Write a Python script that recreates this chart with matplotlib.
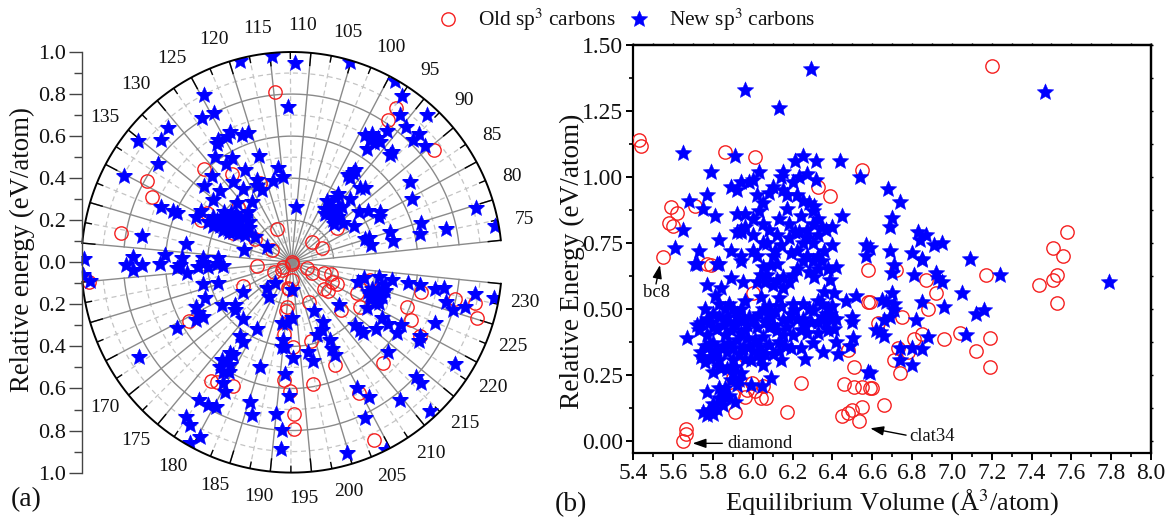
import numpy as np
import matplotlib
matplotlib.use("Agg")
import matplotlib.pyplot as plt
from matplotlib.path import Path
from matplotlib.ticker import FixedLocator, MultipleLocator, FormatStrFormatter, NullFormatter
from matplotlib.lines import Line2D

plt.rcParams['font.family'] = ['Liberation Serif', 'DejaVu Serif']
plt.rcParams['mathtext.fontset'] = 'stix'

# ---- panel (a): (angle label value, relative energy) ----
polar_new = [
(114.8,.984),(118.7,.987),(111.9,.948),(112.9,.738),(124.6,.90),(126.5,.807),(124.5,.80),(131.3,.87),(133.2,.853),
(135.3,.93),(140.2,.90),(136.2,.788),(123.6,.688),(121.8,.652),(120.7,.649),(126.1,.679),(126.7,.667),(124.5,.67),
(119.8,.53),(128.4,.62),(125.5,.57),(127.3,.56),(124.3,.49),(115.9,.452),(118,.397),(115,.41),(131.3,.56),(134.1,.55),
(122.5,.426),(128.4,.47),(132.5,.48),(127.2,.42),(123.3,.40),(122.3,.373),(135.3,.48),(127.2,.346),(131.4,.384),
(110.5,.263),(142.1,.676),(142,.613),(142,.595),(141,.505),(139.1,.496),(140.8,.44),(141.4,.41),(139.3,.41),(139.6,.38),
(136.8,.378),(137.7,.35),(137.2,.326),(134.9,.318),(132.6,.31),(130.3,.317),(141.1,.36),(140,.314),(139.9,.288),
(138.8,.258),(137.1,.211),(138.1,.14),(145.9,.234),(148,.51),(147.9,.725),
(139,.43),(138,.40),(136,.40),(135,.37),(134,.35),(141,.33),(140,.34),(139,.31),(137,.29),(136,.27),(133,.28),(135,.26),(140.5,.38),
(105.1,.992),(99.1,.993),(97.4,.949),(96.2,.869),(93.4,.95),(94.5,.84),(92.4,.86),(92.5,.82),(90.6,.843),(96.3,.77),
(99,.70),(98.1,.72),(96.8,.72),(97,.687),(97.4,.647),(96.2,.712),(97.8,.692),(93.4,.693),(93.5,.707),(96.9,.515),
(96.9,.487),(97,.533),(97.7,.496),(87.5,.678),(84.6,.648),(79.7,.913),(76.8,.98),(77.7,.75),(79.8,.643),(77.8,.626),
(79.9,.49),(77.7,.492),(80,.366),(80,.387),(77.8,.387),(85.6,.485),(84.5,.47),(87.4,.44),(88.5,.40),(93.4,.48),(92.5,.497),
(93.3,.41),(97.2,.39),(99,.334),(96.5,.326),(94.2,.34),(93.7,.356),(95.4,.296),(92.6,.283),(88.8,.308),(85.7,.34),
(97,.37),(96,.31),(98,.30),(94,.30),(97,.28),(91,.27),(92,.31),
(151.5,.754),(150.9,.604),(151.4,.524),(151.2,.42),(151,.35),(151.9,.99),
(153,.786),(153.8,.755),(153,.714),(152.9,.627),(153.2,.532),(153.9,.548),(155.3,.503),(153.9,.445),(153.9,.397),
(153.9,.326),(152.9,.42),(153.2,.357),(155,.962),(154.2,.994),(158.7,.433),(159.7,.363),(162.6,.447),(166.6,.274),
(175.1,.125),(173,.172),(177.9,.195),(166.6,.39),(169,.338),(170.4,.353),(174.7,.356),(163.7,.50),(165.3,.506),(166.5,.53),
(166.6,.494),(165.8,.63),(166.7,.853),(180.3,.36),(177,.431),(178.6,.442),(177.4,.523),(178.3,.521),(176.8,.572),
(177.7,.558),(177.3,.603),(178.8,.57),(178.4,.614),(179.3,.60),(185.1,.522),(179.5,.662),(180.5,.693),(177.5,.787),
(179.1,.787),(180.3,.779),(177.3,.891),(178.4,.913),(180.3,.938),(179.5,.986),(185.2,.693),(186.2,.75),(190,.723),
(191.1,.797),(191.1,.887),(191.1,.53),(192,.637),(193,.457),(188.5,.294),(190.5,.291),(192.6,.267),(189.9,.372),
(190.6,.406),(189.6,.407),(192.6,.132),
(228.2,.975),(228.3,.885),(226.2,.85),(225.3,.80),(226.2,.757),(228,.694),(228.3,.733),(222.4,.74),(218.4,.917),(228.2,.62),
(228.2,.559),(228.2,.484),(228.2,.419),(227,.35),(225.4,.33),(224.9,.466),(223.3,.459),(222.4,.44),(222.6,.404),(226.5,.457),
(221.4,.457),(218.6,.419),(218.4,.505),(218.2,.544),(219.4,.60),(217.5,.603),(218.5,.713),(219.3,.705),(215.5,.513),
(212.7,.424),(212.6,.456),(212.7,.476),(213.4,.626),(213.6,.806),(213.5,.839),(209.6,.834),(211.7,.964),(204.8,.671),
(205.9,.741),(203.8,.818),(199.8,.944),(204.5,1.0),(213.9,.303),(203.8,.254),(205,.32),(203.3,.352),(201,.366),(204.3,.412),
(203.7,.453),(203.7,.485),(197.2,.433),(197.9,.48),
(224,.43),(223.5,.42),(225,.43),(224.5,.40),(222,.42),(221,.44),(223,.39),
]
polar_old = [
(114.8,.816),(131.5,.61),(127.4,.505),(139.3,.79),(141.2,.732),(148,.824),(141.2,.476),(139,.467),(131.8,.367),(122.1,.405),
(122.8,.171),(137.9,.207),(137.9,.109),(140.6,.31),(100,.0),
(97.2,.888),(97.2,.817),(89.4,.861),(92.8,.137),(83.9,.159),(89,.27),
(155.1,.97),(164.2,.256),(165.8,.562),(177.4,.682),(178.3,.671),(181.3,.652),(155.3,.167),(165,.095),(164,.048),(192,.01),
(192.6,.084),(189.4,.125),(189.7,.212),(189.6,.232),(189.9,.343),(192.9,.405),(191,.561),(192.2,.611),(193,.722),(193,.794),
(227.1,.894),(225.1,.92),(227,.794),(226.9,.632),(223.1,.588),(221.1,.632),(219.3,.705),(211.4,.647),(204.6,.70),(203.7,.93),
(213,.326),(203.4,.205),(198.6,.385),(202.7,.527),(197,.589),(222.9,.077),(220.5,.107),(224.6,.159),(225.3,.195),(221.1,.211),
(221.2,.238),(215,.20),(215.7,.222),(226.9,.382),(221.3,.343),(218,.388),(190,.126),(170,.06),
]
upper_labels = [75, 80, 85, 90, 95, 100, 105, 110, 115, 120, 125, 130, 135]
lower_labels = [170, 175, 180, 185, 190, 195, 200, 205, 210, 215, 220, 225, 230]
upper_spokes = np.arange(75, 150.1, 5)
lower_spokes = np.arange(155, 230.1, 5)
radial_ticks = [-1, -.8, -.6, -.4, -.2, 0, .2, .4, .6, .8, 1]

# ---- panel (b): (equilibrium volume, relative energy) ----
scatter_new = [
(6.29,1.41),(5.96,1.33),(6.13,1.26),(5.65,1.09),(5.91,1.08),(5.79,1.02),(6.03,1.02),(6.25,1.08),(6.21,1.06),(6.32,1.06),(6.44,1.06),
(6.15,1.02),(6.14,1.0),(6.2,.98),(6.23,1.0),(6.27,1.01),(6.32,.99),(6.54,1.0),(5.89,.96),(5.92,.95),(5.94,.98),(5.98,.98),(6.0,.99),
(6.02,.93),(6.08,.94),(6.1,.96),(6.15,.95),(6.17,.93),(5.77,.93),(5.68,.91),(5.75,.88),(5.81,.85),(6.25,.91),(6.28,.90),(6.31,.89),
(6.05,.90),(6.03,.87),(6.17,.88),(6.13,.84),(6.24,.85),(5.92,.86),(5.96,.86),(5.94,.80),(5.96,.81),(5.92,.79),(5.94,.79),
(6.05,.82),(6.33,.84),(6.3,.82),(6.45,.85),(6.35,.81),(6.4,.81),(6.37,.80),(5.65,.80),(5.83,.76),(5.61,.73),(5.73,.72),(5.89,.72),(5.94,.70),
(6.07,.75),(6.11,.72),(6.18,.77),(6.21,.79),(6.23,.79),(6.27,.77),(6.3,.75),(6.19,.71),(6.4,.74),(6.36,.72),(6.57,.74),(6.57,.70),
(6.02,.70),(6.27,.70),(6.33,.70),(5.72,.67),(5.82,.67),
(6.68,.956),(6.74,.906),(6.70,.843),(6.69,.81),(6.83,.79),(6.87,.78),(6.84,.76),(6.95,.75),(6.91,.74),(6.69,.72),(6.80,.71),(6.85,.69),
(7.09,.69),(7.47,1.32),(6.59,.73),
(5.71,.67),(5.83,.67),(5.94,.68),(5.77,.59),(5.84,.58),(5.89,.615),(5.95,.60),(6.02,.60),(6.07,.63),(6.12,.61),(6.15,.62),(6.22,.65),
(6.31,.62),(6.39,.61),(6.42,.66),(6.35,.68),(6.25,.68),(6.09,.665),(6.04,.63),(6.05,.66),(6.12,.67),(6.36,.565),(6.41,.56),(6.04,.546),
(5.81,.55),(5.83,.52),(5.76,.50),(5.88,.52),(5.94,.50),(5.92,.48),(6.13,.54),(6.14,.51),(6.21,.495),(6.3,.495),(6.35,.52),(6.39,.48),
(6.47,.53),(6.52,.548),(6.5,.47),(6.5,.45),(6.505,.388),(6.49,.36),(6.43,.33),(6.26,.31),(6.355,.337),(6.3,.37),(6.24,.35),(6.19,.35),
(6.14,.305),(6.05,.286),(6.09,.236),(6.045,.207),(5.99,.21),(5.67,.388),(5.73,.42),(5.74,.445),(5.82,.425),(5.77,.4),(5.74,.337),(5.74,.318),
(5.79,.31),(5.83,.305),(5.80,.26),(5.84,.274),(5.9,.255),(5.94,.255),(5.89,.23),(5.785,.318),(5.77,.185),(5.86,.198),(5.86,.166),(5.91,.148),
(5.85,.135),(5.8,.14),(5.78,.116),(5.77,.097),(5.82,.122),(5.87,.337),(5.92,.38),(5.94,.41),(5.89,.42),(5.97,.39),(6.01,.38),(6.0,.457),
(6.08,.43),(6.09,.47),(6.15,.457),(6.08,.48),(6.19,.48),(6.24,.42),(6.27,.41),(6.29,.45),(6.37,.445),(6.41,.425),(6.42,.375),(6.15,.40),
(6.08,.362),(6.02,.33),(5.99,.305),(6.1,.33),(6.04,.31),(5.8,.37),(5.82,.343),(5.95,.35),(5.97,.438),(6.2,.52),(6.37,.48),(6.25,.463),(6.58,.26),
(6.035,.356),(5.86,.40),(5.9,.305),(5.87,.47),(5.77,.463),(5.83,.47),(5.95,.457),(6.05,.394),(6.12,.42),(6.13,.375),(6.2,.40),(6.33,.41),
(6.71,.666),(6.70,.634),(6.81,.628),(6.92,.634),(6.93,.615),(6.95,.60),(6.85,.685),(7.24,.628),(7.79,.60),(7.05,.56),(6.70,.558),(6.65,.533),
(6.67,.527),(6.71,.52),(6.85,.527),(6.96,.507),(7.16,.497),(7.12,.482),(6.71,.495),(6.69,.47),(6.66,.457),(6.82,.457),(6.62,.42),(6.66,.396),
(6.64,.413),(6.88,.394),(7.07,.40),(6.74,.35),(6.8,.353),(6.85,.346),(6.74,.305),(6.8,.286),(6.59,.257),
(5.78,.45),(5.80,.48),(5.85,.44),(5.88,.45),(5.91,.44),(5.93,.46),(5.96,.42),(5.98,.47),(6.02,.43),(6.03,.48),(6.06,.45),(6.1,.44),(6.11,.49),
(6.17,.43),(6.18,.46),(6.22,.46),(6.26,.44),(6.33,.45),(6.35,.47),(6.38,.42),(6.4,.46),(5.78,.36),(5.85,.36),(5.88,.37),(5.9,.35),(5.93,.33),
(5.96,.31),(5.98,.36),(6.0,.34),(6.06,.33),(6.13,.34),(6.16,.36),(5.76,.30),(5.81,.33),(5.83,.28),(5.87,.27),(5.91,.28),(5.93,.23),(5.92,.21),
(5.83,.16),(5.88,.17),(5.83,.2),(5.75,.11),(5.8,.1),(5.76,.36),(5.72,.44),(5.8,.43),(5.86,.5),(5.9,.5),(5.96,.53),(6.08,.51),(6.05,.5),(6.25,.52),
(6.28,.5),(6.33,.53),(6.38,.5),(6.4,.51),(6.42,.46),(6.06,.6),(6.1,.59),(6.15,.58),(6.18,.6),(6.2,.63),(6.28,.64),(6.33,.65),(6.38,.65),(6.1,.7),
(6.05,.75),(6.0,.72),(6.14,.74),(6.22,.72),(6.25,.75),(6.3,.68),(6.33,.78),(6.27,.8),(6.3,.87),(6.22,.93),(6.18,.82),(6.12,.78),(6.08,.8),(6.0,.84),(6.0,.78),
]
scatter_old = [
(7.20,1.42),(7.58,.79),(7.51,.73),(7.56,.70),(5.43,1.14),(5.44,1.117),(5.86,1.095),(6.01,1.074),(6.55,1.026),(6.33,.96),(6.39,.927),(5.71,.89),
(5.59,.884),(5.62,.864),(5.58,.824),(5.6,.814),(5.55,.697),(5.77,.67),(5.79,.666),(6.0,.558),(6.58,.647),(6.58,.527),(6.48,.343),(5.96,.32),
(6.51,.28),(6.46,.214),(6.51,.204),(6.55,.204),(6.59,.198),(6.24,.217),(6.17,.11),(5.91,.107),(6.55,.128),(6.5,.116),(6.48,.106),(6.45,.094),
(6.535,.074),(5.665,.046),(5.663,.025),(5.65,0),(5.9,.236),(5.9,.173),(5.96,.166),(6.04,.16),(6.065,.16),(6.01,.19),(5.97,.194),(6.05,.207),
(5.995,.217),(6.72,.647),(6.87,.609),(7.17,.63),(7.53,.63),(7.51,.609),(7.44,.59),(7.53,.523),(6.92,.558),(6.88,.50),(6.75,.47),(6.63,.447),
(6.59,.527),(6.85,.404),(6.81,.385),(7.04,.41),(6.96,.384),(7.19,.39),(7.12,.339),(7.19,.28),(6.73,.35),(6.78,.337),(6.71,.305),(6.74,.257),
(6.6,.198),(6.66,.137),
]

W, H = 1170, 521
fig = plt.figure(figsize=(W/100, H/100), dpi=100)
fig.patch.set_facecolor('white')
INK = '#111111'

def rect(l, t, r, b):
    return [l/W, 1-b/H, (r-l)/W, (b-t)/H]

def theta(v):
    v = np.asarray(v, dtype=float)
    return np.radians(np.where(v < 152.45, (v-72.33)*2.25, 180+(v-152.6)*2.25))

fat_star = Path.unit_regular_star(5, innerCircle=0.46)
STAR = dict(ls='none', marker=fat_star, ms=12.5, mfc='#0000ff', mec='#0000ff', mew=0.3, zorder=4)
CIRC = dict(ls='none', marker='o', ms=9.6, mfc='none', mec='#f52020', mew=1.0, zorder=3)

# ---------------- panel (a) ----------------
cx, cy, R = 291.7, 262.3, 210.3
pax = fig.add_axes(rect(cx-R, cy-R, cx+R, cy+R), projection='polar')
pax.set_rlim(0, 1)
pax.set_axis_off()
GREY = '#8a8a8a'
LGREY = '#c4c4c4'
for spokes in (upper_spokes, lower_spokes):
    fine = np.linspace(spokes[0], spokes[-1], 300)
    for r in (.2, .4, .6, .8):
        pax.plot(theta(fine), np.full_like(fine, r), color=GREY, lw=1.0, zorder=1)
    for r in (.1, .3, .5, .7, .9):
        pax.plot(theta(fine), np.full_like(fine, r), color=LGREY, lw=0.9, ls=(0, (4, 3)), zorder=1)
    pax.plot(theta(fine), np.ones_like(fine), color='black', lw=1.4, zorder=5, clip_on=False)
    for s in spokes:
        pax.plot(theta([s, s]), [0, 1], color=GREY, lw=1.0, zorder=1)
        pax.plot(theta([s, s]), [.94, 1], color='black', lw=1.0, zorder=2)
    for s in spokes[:-1] + 2.5:
        pax.plot(theta([s, s]), [.1, 1], color=LGREY, lw=0.9, ls=(0, (4, 3)), zorder=1)
        pax.plot(theta([s, s]), [.97, 1], color='black', lw=1.0, zorder=2)

pn = np.array(polar_new).T
po = np.array(polar_old).T
pax.plot(theta(po[0]), po[1], **CIRC)
pax.plot(theta(pn[0]), pn[1], **STAR)

for v in upper_labels:
    d = theta(v) + np.radians(4.3-(v-75)*0.05)
    pax.text(d, 1.125, str(v), ha='center', va='center', fontsize=14, color=INK)
for v in lower_labels:
    d = theta(v) - np.radians(1.3+(v-170)*0.045)
    pax.text(d, 1.125, str(v), ha='center', va='center', fontsize=14, color=INK)

rul = fig.add_axes(rect(81.5, cy-R, 81.6, cy+R))
rul.set_ylim(-1, 1)
rul.set_xticks([])
for sp in ('top', 'bottom', 'right'):
    rul.spines[sp].set_visible(False)
rul.spines['left'].set_color('#444444')
rul.spines['left'].set_linewidth(1.0)
rul.yaxis.set_major_locator(FixedLocator(radial_ticks))
rul.yaxis.set_minor_locator(MultipleLocator(0.1))
rul.set_yticklabels([f'{abs(t):.1f}' for t in radial_ticks], fontsize=16, color=INK)
rul.tick_params(axis='y', which='major', length=9.5, width=1.0, color='#444444', pad=1.5)
rul.tick_params(axis='y', which='minor', length=5.5, width=1.0, color='#444444')
rul.patch.set_visible(False)
fig.text(22/W, 1-250/H, 'Relative energy (eV/atom)', rotation=90, ha='center', va='center', fontsize=19.4, color=INK)
fig.text(26/W, 1-500/H, '(a)', ha='center', va='center', fontsize=20, color=INK)

# ---------------- panel (b) ----------------
ax = fig.add_axes(rect(633.3, 45, 1151, 452.7))
sn = np.array(scatter_new).T
so = np.array(scatter_old).T
ax.plot(so[0], so[1], **CIRC)
ax.plot(sn[0], sn[1], **STAR)
ax.set_xlim(5.4, 8.0)
ax.set_ylim(-0.0455, 1.5)
ax.xaxis.set_major_locator(MultipleLocator(0.2))
ax.xaxis.set_minor_locator(MultipleLocator(0.1))
ax.yaxis.set_major_locator(MultipleLocator(0.25))
ax.yaxis.set_minor_locator(MultipleLocator(0.125))
ax.xaxis.set_major_formatter(FormatStrFormatter('%.1f'))
ax.yaxis.set_major_formatter(FormatStrFormatter('%.2f'))
ax.tick_params(which='major', length=5, width=1.4, labelsize=17, pad=2.5, labelcolor=INK)
ax.tick_params(which='minor', length=3, width=1.2)
for sp in ax.spines.values():
    sp.set_linewidth(1.6)
top = ax.secondary_xaxis('top')
top.xaxis.set_major_locator(MultipleLocator(0.1))
top.xaxis.set_major_formatter(NullFormatter())
top.tick_params(length=1.5, width=1.0)
right = ax.secondary_yaxis('right')
right.yaxis.set_major_locator(MultipleLocator(0.125))
right.yaxis.set_major_formatter(NullFormatter())
right.tick_params(length=1.5, width=1.0)
for s in (top, right):
    for sp in s.spines.values():
        sp.set_linewidth(1.6)

fig.text(892/W, 1-503/H, 'Equilibrium Volume (Å$^3$/atom)', ha='center', va='center', fontsize=19, color=INK)
fig.text(572/W, 1-261/H, 'Relative Energy (eV/atom)', rotation=90, ha='center', va='center', fontsize=19.6, color=INK)
fig.text(571/W, 1-505/H, '(b)', ha='center', va='center', fontsize=20, color=INK)

ARROW = dict(arrowstyle='-|>,head_width=0.28,head_length=0.8', color='black', lw=1.0, shrinkA=0, shrinkB=0)
ax.annotate('', xy=(5.534, .666), xytext=(5.514, .594), arrowprops=ARROW, zorder=6)
ax.text(5.517, .563, 'bc8', ha='center', va='center', fontsize=13.4, color=INK)
ax.annotate('', xy=(5.698, -.01), xytext=(5.847, -.01), arrowprops=ARROW, zorder=6)
ax.text(5.87, -.01, 'diamond', ha='left', va='center', fontsize=13.4, color=INK)
ax.annotate('', xy=(6.59, .047), xytext=(6.77, .021), arrowprops=ARROW, zorder=6)
ax.text(6.9, .015, 'clat34', ha='center', va='center', fontsize=13.4, color=INK)

# ---------------- legend ----------------
handles = [Line2D([], [], **CIRC), Line2D([], [], **STAR)]
fig.legend(handles, ['Old sp$^3$ carbons', 'New sp$^3$ carbons'], ncol=2, frameon=False,
           loc='center', bbox_to_anchor=(621/W, 1-20/H), fontsize=15.4,
           handletextpad=0.4, columnspacing=0.1, labelcolor=INK)

fig.savefig('out.png', dpi=100)
